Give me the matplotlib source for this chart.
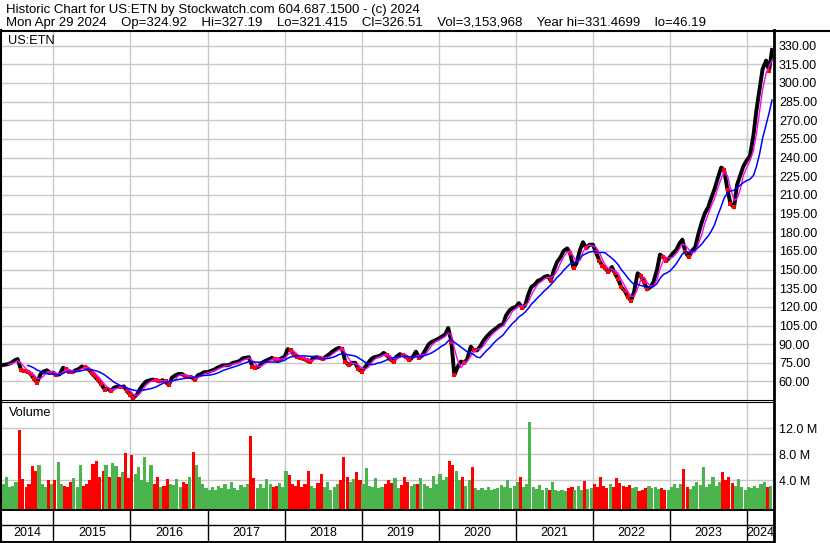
import numpy as np
import pandas as pd
import matplotlib
matplotlib.use('Agg')
import matplotlib.pyplot as plt
from matplotlib.lines import Line2D

plt.rcParams['font.family'] = ['Liberation Sans', 'DejaVu Sans']

W, H = 830, 543

# header text
title_1 = 'Historic Chart for US:ETN by Stockwatch.com 604.687.1500 - (c) 2024'
title_2 = ('Mon Apr 29 2024    Op=324.92    Hi=327.19    Lo=321.415    Cl=326.51    '
           'Vol=3,153,968    Year hi=331.4699    lo=46.19')

# closes read off the chart on the 1st and 15th of each month (May 2014 .. Apr 2024),
# plus the last session (Apr 29 2024)
close_2014 = [73, 73.5, 74, 75, 77, 78, 69, 68.5, 68, 66, 62, 59, 66, 68, 69, 67]
close_2015 = [67, 65, 66, 71, 70, 68, 67.5, 69, 70, 72, 71.5, 70,
              67, 64, 61, 58, 53.5, 54, 52.5, 55, 56, 55.5, 56, 52.5]
close_2016 = [49, 47, 49.5, 54, 57.5, 60, 61, 61.5, 61, 60, 61, 60,
              57, 63, 65, 66, 66, 64.5, 63.5, 63.5, 61.5, 65, 66, 67.5]
close_2017 = [67.5, 68.5, 69.5, 71, 72, 73, 73, 73.5, 75, 75.5, 76.5, 78.5,
              79, 79.5, 72, 71, 72, 75, 76.5, 77.5, 79, 78, 77.5, 78.5]
close_2018 = [80, 86, 85, 81, 80, 79, 78, 77, 75.5, 79, 79.5, 79,
              78, 80, 82, 84, 86, 87, 86, 76, 73, 75, 75, 70]
close_2019 = [68, 71, 75, 78, 79.5, 80, 81, 83, 81, 78, 76, 80,
              82, 81, 80, 77, 80, 84, 79, 81, 86, 90, 92, 93]
close_2020 = [94.5, 96, 98, 103, 92, 65, 72, 76, 75, 78, 88, 85,
              85, 88, 93, 96, 99, 101, 103, 105, 106, 113, 117, 119]
close_2021 = [120, 123, 119, 122, 130, 136, 138, 141, 142, 144, 145, 141,
              150, 156, 160, 165, 167, 163, 151, 155, 166, 172, 167, 170]
close_2022 = [170, 164, 157, 153, 151, 148, 152, 147, 142, 136, 133, 128,
              125, 132, 147, 145, 140, 134, 136, 140, 150, 162, 160, 157]
close_2023 = [160, 163, 166, 171, 174, 164, 160, 165, 168, 178, 188, 195,
              200, 207, 215, 223, 232, 230, 214, 203, 200, 218, 226, 233]
close_2024 = [238, 241, 258, 278, 295, 311, 318, 310, 326.51]

# volume for the half month ending at each close, millions of shares
vol_2014 = [2.8, 3.5, 4.5, 3.0, 3.2, 3.8, 11.7, 4.2, 3.0, 3.5, 6.2, 5.5, 6.3, 3.5, 3.0, 4.0]
vol_2015 = [3.5, 4.0, 6.8, 3.5, 3.2, 3.0, 3.8, 4.3, 3.0, 6.3, 3.2, 3.5,
            4.0, 6.5, 7.0, 4.5, 5.5, 6.3, 4.5, 6.7, 6.2, 4.5, 5.3, 8.3]
vol_2016 = [4.4, 7.9, 5.0, 6.0, 4.0, 7.6, 3.8, 6.3, 3.5, 4.5, 3.0, 3.2,
            4.2, 3.5, 3.3, 4.2, 3.0, 3.8, 3.5, 4.5, 8.4, 6.3, 4.5, 3.5]
vol_2017 = [2.8, 2.5, 3.0, 2.6, 3.2, 2.8, 3.5, 2.7, 3.8, 2.9, 2.6, 3.3,
            3.0, 3.5, 10.8, 4.4, 2.8, 3.4, 2.9, 4.2, 3.5, 3.0, 3.2, 3.6]
vol_2018 = [3.0, 5.5, 4.8, 3.5, 3.2, 4.0, 3.0, 3.5, 5.5, 3.2, 2.8, 3.6,
            5.0, 3.0, 3.8, 2.6, 3.0, 3.4, 4.0, 7.6, 4.5, 3.8, 4.2, 5.3]
vol_2019 = [4.0, 3.5, 5.9, 3.2, 3.0, 4.4, 2.8, 3.0, 3.5, 4.0, 3.6, 4.3,
            2.8, 3.3, 4.6, 3.7, 3.2, 3.5, 3.4, 4.4, 3.5, 3.2, 2.9, 4.7]
vol_2020 = [3.5, 5.0, 4.0, 4.5, 7.0, 6.3, 5.5, 4.0, 4.5, 3.2, 4.0, 6.1,
            2.9, 2.6, 2.8, 2.5, 3.0, 2.6, 2.7, 2.9, 3.3, 3.0, 4.1, 2.8]
vol_2021 = [3.2, 3.8, 4.5, 3.0, 3.5, 13.0, 3.0, 2.7, 3.3, 2.5, 2.8, 2.6,
            3.7, 2.5, 2.3, 2.6, 2.4, 2.8, 3.0, 2.6, 3.2, 2.5, 3.9, 2.7]
vol_2022 = [2.8, 3.4, 3.0, 4.5, 3.2, 2.9, 3.5, 3.0, 4.4, 3.6, 3.2, 3.0,
            3.3, 2.8, 3.0, 2.4, 2.6, 2.9, 3.1, 2.8, 3.0, 2.7, 2.9, 2.6]
vol_2023 = [2.6, 3.0, 3.4, 2.8, 3.5, 5.8, 3.0, 2.7, 3.2, 3.7, 3.3, 6.0,
            3.0, 3.5, 4.5, 3.2, 3.8, 5.3, 4.0, 4.5, 3.6, 3.2, 4.2, 3.0]
vol_2024 = [2.5, 3.0, 2.8, 3.2, 2.9, 3.4, 3.8, 3.0, 3.15]

years = list(range(2014, 2025))
price_ticks = list(range(60, 331, 15))
vol_ticks = [4, 8, 12]

close = np.array(close_2014 + close_2015 + close_2016 + close_2017 + close_2018 + close_2019
                 + close_2020 + close_2021 + close_2022 + close_2023 + close_2024, dtype=float)
volume = np.array(vol_2014 + vol_2015 + vol_2016 + vol_2017 + vol_2018 + vol_2019
                  + vol_2020 + vol_2021 + vol_2022 + vol_2023 + vol_2024, dtype=float)
dates = pd.DatetimeIndex(list(pd.date_range('2014-05-01', '2024-04-15', freq='SMS'))
                         + [pd.Timestamp('2024-04-29')])

s = pd.Series(close)
ma_fast = s.rolling(3).mean()
ma_slow = s.rolling(9).mean()
up = np.diff(close, prepend=close[0]) >= 0

x_left = pd.Timestamp('2014-05-02')
x_right = pd.Timestamp('2024-05-05')


def fx(px):
    return px / W


def fy(py):
    return 1 - py / H


fig = plt.figure(figsize=(W / 100, H / 100), dpi=100)
fig.patch.set_facecolor('white')

ax_p = fig.add_axes([fx(2), fy(399.5), (773.3 - 2) / W, (399.5 - 31) / H])
ax_v = fig.add_axes([fx(2), fy(509), (773.3 - 2) / W, (509 - 402.5) / H])
ax_d = fig.add_axes([fx(2), fy(541), (773.3 - 2) / W, (541 - 509) / H])

grid_c = '#c8c8c8'
year_starts = [pd.Timestamp(f'{y}-01-01') for y in years[1:]]

for ax in (ax_p, ax_v, ax_d):
    ax.set_xlim(x_left, x_right)
    for sp in ax.spines.values():
        sp.set_visible(False)
    ax.set_xticks([])

# price panel
for ys in year_starts:
    ax_p.axvline(ys, color=grid_c, lw=1.0, zorder=0)
for t in price_ticks:
    ax_p.axhline(t, color=grid_c, lw=1.0, zorder=0)
ax_p.plot(dates, close, color='black', lw=2.8, zorder=2)
ax_p.plot(dates[~up], close[~up], 's', color='red', ms=2.2, mew=0, zorder=3)
ax_p.plot(dates, ma_fast, color='#ff00ff', lw=1.0, zorder=4)
ax_p.plot(dates, ma_slow, color='#0000ff', lw=1.1, zorder=5)
ax_p.set_ylim(45.5, 341.8)
ax_p.yaxis.tick_right()
ax_p.set_yticks(price_ticks)
ax_p.set_yticklabels([f'{t:.2f}' for t in price_ticks])
ax_p.tick_params(axis='y', length=0, pad=4, labelsize=9.0)
ax_p.text(6 / 771.3, 1 - 10 / 368.5, 'US:ETN', transform=ax_p.transAxes,
          fontsize=9.2, va='center', ha='left')

# volume panel
for ys in year_starts:
    ax_v.axvline(ys, color=grid_c, lw=1.0, zorder=0)
for t in vol_ticks:
    ax_v.axhline(t, color=grid_c, lw=1.0, zorder=0)
bar_c = np.where(up, '#4cb44c', '#ff0000')
ax_v.bar(dates, volume + 0.4, bottom=-0.4, width=-15.2, align='edge',
         color=bar_c, linewidth=0, zorder=2)
ax_v.set_ylim(-0.4, 16.0)
ax_v.yaxis.tick_right()
ax_v.set_yticks(vol_ticks)
ax_v.set_yticklabels([f'{t:.1f} M' for t in vol_ticks])
ax_v.tick_params(axis='y', length=0, pad=4, labelsize=9.0)
ax_v.text(7 / 771.3, 1 - 11 / 106.5, 'Volume', transform=ax_v.transAxes,
          fontsize=9.2, va='center', ha='left')

# date panel
ax_d.set_ylim(0, 2)
ax_d.set_yticks([])
ax_d.axhline(1, color='black', lw=1.0)
bounds = [x_left] + year_starts + [x_right]
for ys in year_starts:
    ax_d.axvline(ys, color='black', lw=1.0)
for i, y in enumerate(years):
    mid = bounds[i] + (bounds[i + 1] - bounds[i]) / 2
    ax_d.text(mid, 0.5, str(y), ha='center', va='center', fontsize=9.0)


# frame lines
def hline(py, x0, x1, lw):
    fig.add_artist(Line2D([fx(x0), fx(x1)], [fy(py), fy(py)], color='black', lw=lw))


def vline(px, y0, y1, lw):
    fig.add_artist(Line2D([fx(px), fx(px)], [fy(y0), fy(y1)], color='black', lw=lw))


hline(30.5, 0, W, 1.5)
hline(399.5, 0, 774, 0.8)
hline(402, 0, 774, 0.8)
hline(509.5, 0, 774, 1.4)
hline(541.5, 0, 774, 1.4)
vline(1, 30, 543, 1.5)
vline(774.3, 30, 543, 2.0)

fig.text(fx(6), fy(9.5), title_1, fontsize=9.5, va='center', ha='left')
fig.text(fx(6), fy(23), title_2, fontsize=9.5, va='center', ha='left')

fig.savefig('out.png', dpi=100)
